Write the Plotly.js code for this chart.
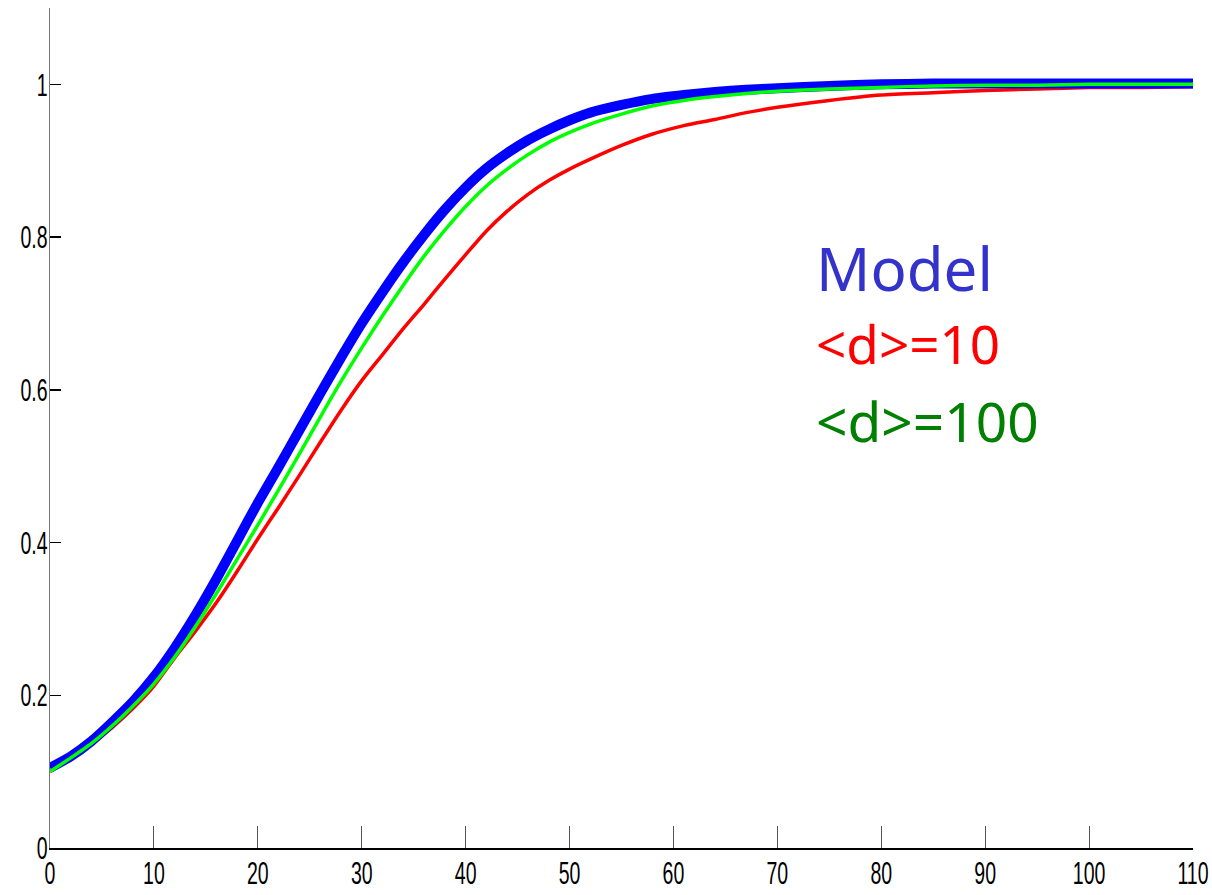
<!DOCTYPE html>
<html>
<head>
<meta charset="utf-8">
<script src="https://cdn.plot.ly/plotly-3.0.1.min.js"></script>
<style>
  html, body { margin: 0; padding: 0; background: #ffffff; }
  #chart { width: 1212px; height: 895px; }
</style>
</head>
<body>
<div id="chart"></div>
<script>
// x positions (time)
const xVals = [0, 2, 4, 6, 8, 10, 12, 14, 16, 18, 20, 22, 24, 26, 28, 30, 32, 34, 36, 38, 40,
               42, 44, 46, 48, 50, 52, 55, 58, 61, 64, 67, 70, 75, 80, 85, 90, 95, 100, 105, 110];

// Model curve
const modelY = [0.105, 0.120, 0.140, 0.165, 0.192, 0.224, 0.262, 0.305, 0.352, 0.402, 0.452,
                0.499, 0.547, 0.595, 0.642, 0.687, 0.728, 0.767, 0.803, 0.836, 0.865,
                0.890, 0.910, 0.927, 0.941, 0.953, 0.963, 0.973, 0.981, 0.986, 0.990,
                0.993, 0.995, 0.998, 1.000, 1.001, 1.001, 1.001, 1.001, 1.001, 1.001];

// <d>=10 curve
const d10Y = [0.100, 0.117, 0.136, 0.158, 0.183, 0.212, 0.249, 0.284, 0.321, 0.362, 0.405,
              0.446, 0.488, 0.531, 0.573, 0.612, 0.646, 0.680, 0.712, 0.745, 0.777,
              0.808, 0.834, 0.856, 0.874, 0.889, 0.902, 0.920, 0.935, 0.946, 0.954,
              0.963, 0.970, 0.979, 0.986, 0.989, 0.992, 0.994, 0.996, 0.996, 0.997];

// <d>=100 curve
const d100Y = [0.100, 0.118, 0.137, 0.160, 0.186, 0.215, 0.250, 0.290, 0.333, 0.378, 0.423,
               0.469, 0.516, 0.564, 0.611, 0.655, 0.697, 0.737, 0.775, 0.809, 0.840,
               0.867, 0.889, 0.908, 0.924, 0.937, 0.948, 0.961, 0.972, 0.979, 0.984,
               0.988, 0.991, 0.994, 0.996, 0.998, 0.999, 0.999, 1.000, 1.000, 1.000];

const xTicks = [0, 10, 20, 30, 40, 50, 60, 70, 80, 90, 100, 110];
const yTicks = [0, 0.2, 0.4, 0.6, 0.8, 1];
const yTickText = ['0', '0.2', '0.4', '0.6', '0.8', '1'];

const labels = ['Model', '<d>=10', '<d>=100'];
const labelColors = ['#3333cc', '#ff0000', '#008000'];

const traces = [
  { x: xVals, y: d10Y, mode: 'lines', name: labels[1],
    line: { color: '#ff0000', width: 3.5, shape: 'spline', smoothing: 0.6 } },
  { x: xVals, y: modelY, mode: 'lines', name: labels[0],
    line: { color: '#0000ff', width: 10, shape: 'spline', smoothing: 0.6 } },
  { x: xVals, y: d100Y, mode: 'lines', name: labels[2],
    line: { color: '#00ff00', width: 3.5, shape: 'spline', smoothing: 0.6 } }
];

const tickFont = { family: '"Liberation Sans", Arial, sans-serif', size: 32, color: '#000000' };
const labelFont = '"Noto Sans", "DejaVu Sans", sans-serif';

const layout = {
  width: 1212, height: 895,
  margin: { l: 50, r: 19, t: 8, b: 47 },
  paper_bgcolor: '#ffffff', plot_bgcolor: '#ffffff',
  showlegend: false,
  xaxis: {
    range: [0, 110], tickvals: xTicks, ticktext: xTicks.map(String),
    ticks: 'inside', ticklen: 22, tickwidth: 1, tickcolor: '#555555',
    showline: true, linecolor: '#000000', linewidth: 2,
    showgrid: false, zeroline: false, tickfont: tickFont, automargin: false,
    ticklabeloverflow: 'allow', ticklabelstandoff: -4
  },
  yaxis: {
    range: [0, 1.1], tickvals: yTicks, ticktext: yTickText,
    ticks: 'inside', ticklen: 11, tickwidth: 1.5, tickcolor: '#000000',
    showline: true, linecolor: '#777777', linewidth: 1,
    showgrid: false, zeroline: false, tickfont: tickFont, automargin: false,
    ticklabeloverflow: 'allow', ticklabelstandoff: -5
  },
  annotations: [
    { xref: 'paper', yref: 'paper', x: 0.668, y: 0.690, xanchor: 'left', yanchor: 'middle',
      text: labels[0], showarrow: false, font: { family: labelFont, size: 60, color: labelColors[0] } },
    { xref: 'paper', yref: 'paper', x: 0.668, y: 0.601, xanchor: 'left', yanchor: 'middle',
      text: '&lt;d&gt;=10', showarrow: false, font: { family: labelFont, size: 53, color: labelColors[1] } },
    { xref: 'paper', yref: 'paper', x: 0.668, y: 0.509, xanchor: 'left', yanchor: 'middle',
      text: '&lt;d&gt;=100', showarrow: false, font: { family: labelFont, size: 55, color: labelColors[2] } }
  ]
};

Plotly.newPlot('chart', traces, layout, { displayModeBar: false, staticPlot: true }).then(function (gd) {
  // condense tick labels horizontally (tall, narrow digits as in the reference):
  // scale each label about its own anchor point so it stays where Plotly put it
  const k = 0.61;
  gd.querySelectorAll('.xtick text, .ytick text').forEach(function (t) {
    const ax = parseFloat(t.getAttribute('x') || '0');
    const tr = t.getAttribute('transform') || '';
    t.setAttribute('transform',
      (tr + ' translate(' + ax + ',0) scale(' + k + ',1) translate(' + (-ax) + ',0)').trim());
  });
});
</script>
</body>
</html>
